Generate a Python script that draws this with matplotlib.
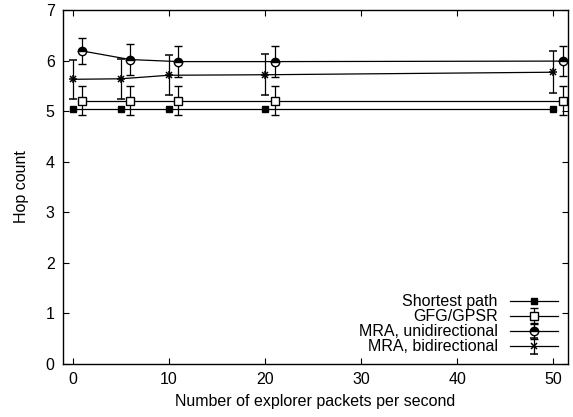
import matplotlib
matplotlib.use("Agg")
import matplotlib.pyplot as plt

plt.rcParams['font.family'] = ['Liberation Sans', 'DejaVu Sans']
plt.rcParams['font.size'] = 11.5

# explorer packets per second
rate = [0, 5, 10, 20, 50]
# offset series are drawn one unit to the right
rate_off = [1, 6, 11, 21, 51]

shortest = [5.05, 5.05, 5.05, 5.05, 5.05]

gfg = [5.21, 5.21, 5.21, 5.21, 5.21]
gfg_err = [0.29, 0.29, 0.29, 0.29, 0.29]

mra_uni = [6.19, 6.02, 5.98, 5.98, 5.99]
mra_uni_err = [0.26, 0.30, 0.30, 0.31, 0.30]

mra_bi = [5.63, 5.64, 5.71, 5.72, 5.77]
mra_bi_err = [0.38, 0.39, 0.40, 0.41, 0.42]

fig = plt.figure(figsize=(5.73, 4.17), dpi=100)
ax = fig.add_axes([0.110, 0.127, 0.881, 0.849])

lw = 0.9
ax.plot(rate, shortest, color='black', lw=lw, marker='s', ms=5,
        mfc='black', mec='black', label='Shortest path')
ax.errorbar(rate_off, gfg, yerr=gfg_err, color='black', lw=lw, elinewidth=lw,
            capsize=3, marker='s', ms=6, mfc='white', mec='black', mew=1,
            label='GFG/GPSR')
ax.errorbar(rate_off, mra_uni, yerr=mra_uni_err, color='black', lw=lw,
            elinewidth=lw, capsize=3, marker='o', ms=6, fillstyle='top',
            mfc='black', mfcalt='white', mec='black', mew=1,
            label='MRA, unidirectional')
ax.errorbar(rate, mra_bi, yerr=mra_bi_err, color='black', lw=lw, elinewidth=lw,
            capsize=3, marker='x', ms=5, mec='black', mew=1.1,
            label='MRA, bidirectional')
ax.plot(rate, mra_bi, color='black', lw=0, marker='+', ms=6, mew=1.1)

ax.set_xlim(-1, 51.5)
ax.set_ylim(0, 7)
ax.set_xticks([0, 10, 20, 30, 40, 50])
ax.set_yticks(range(0, 8))
ax.tick_params(direction='in', top=True, right=True, length=4, width=0.8,
               labelsize=11.5, pad=6)
for s in ax.spines.values():
    s.set_linewidth(1.0)

ax.set_xlabel('Number of explorer packets per second', fontsize=11.5, labelpad=5)
ax.set_ylabel('Hop count', fontsize=11.5, labelpad=12)

ax.legend(loc='lower right', frameon=False, markerfirst=False,
          handlelength=3.0, labelspacing=0.0, borderaxespad=0.2,
          handletextpad=0.8, fontsize=11.5)

fig.savefig('out.png', dpi=100)
